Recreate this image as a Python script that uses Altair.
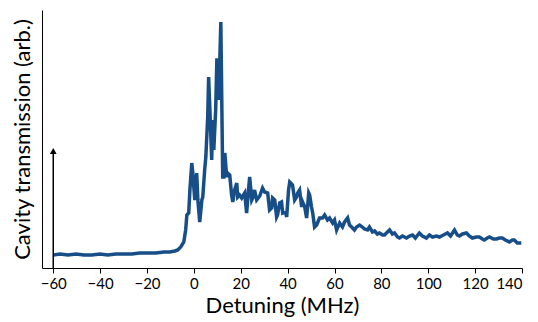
import altair as alt
import pandas as pd

# Detuning (MHz)
detuning = [
    -60.0, -57.1, -53.7, -50.3, -46.9, -43.5, -40.1, -36.7, -33.3, -29.9,
    -26.5, -23.1, -19.7, -16.2, -12.8, -10.3, -8.1, -6.9, -5.6, -4.3,
    -3.5, -3.0, -2.2, -1.7, -0.9, -0.5, 0.4, 1.2, 1.7, 2.5,
    3.4, 3.8, 4.6, 5.1, 5.5, 5.9, 6.3, 7.2, 7.6, 8.0,
    8.5, 9.3, 9.8, 10.2, 10.6, 11.5, 11.9, 12.3, 12.8, 13.2,
    14.0, 14.4, 15.3, 16.1, 16.6, 17.4, 18.3, 18.7, 19.5, 20.4,
    21.7, 22.5, 23.8, 24.7, 25.1, 25.9, 26.8, 28.1, 29.3, 30.2,
    31.5, 32.3, 33.2, 33.6, 34.5, 35.3, 35.7, 36.6, 37.4, 37.9,
    39.1, 39.6, 40.4, 40.9, 42.1, 43.0, 43.8, 44.3, 45.1, 46.0,
    46.4, 47.3, 48.1, 49.0, 49.4, 50.2, 50.7, 51.5, 52.4, 53.6,
    54.9, 55.8, 57.0, 57.9, 59.2, 60.0, 60.9, 62.2, 63.4, 64.3,
    65.6, 66.4, 67.3, 68.5, 69.4, 70.7, 71.9, 72.8, 74.1, 74.9,
    76.2, 77.1, 78.3, 79.2, 80.5, 81.3, 82.6, 83.5, 84.7, 85.6,
    86.9, 87.7, 89.0, 90.7, 92.0, 93.3, 94.5, 96.2, 97.5, 99.2,
    100.5, 101.8, 103.5, 104.8, 106.5, 108.2, 109.5, 111.2, 112.4, 113.3,
    114.6, 116.3, 117.5, 118.8, 120.5, 121.8, 123.1, 123.9, 125.2, 126.1,
    127.8, 129.1, 130.3, 131.6, 132.9, 134.6, 135.9, 136.7, 138.0, 138.9,
    139.7,
]

# Cavity transmission (arb.)
transmission = [
    13, 14, 13, 14, 13, 13, 14, 13, 14, 14,
    14, 15, 15, 15, 16, 16, 17, 18, 21, 26,
    38, 53, 55, 78, 105, 96, 68, 95, 68, 46,
    68, 71, 98, 111, 131, 151, 191, 135, 108, 148,
    118, 158, 208, 208, 168, 246, 168, 91, 91, 115,
    91, 95, 93, 73, 66, 78, 85, 71, 73, 70,
    75, 55, 91, 68, 70, 78, 68, 72, 80, 76,
    75, 58, 60, 70, 68, 51, 53, 65, 66, 55,
    56, 51, 78, 86, 83, 68, 71, 75, 78, 61,
    66, 61, 50, 75, 73, 61, 55, 41, 43, 50,
    50, 53, 48, 50, 45, 48, 38, 45, 41, 46,
    50, 43, 41, 38, 41, 43, 41, 39, 38, 41,
    36, 37, 34, 35, 33, 33, 36, 38, 34, 35,
    31, 30, 32, 30, 32, 33, 30, 35, 32, 30,
    33, 31, 32, 31, 33, 35, 32, 38, 33, 32,
    34, 35, 32, 30, 31, 31, 29, 28, 30, 31,
    29, 29, 30, 30, 28, 26, 28, 28, 25, 25,
    25,
]

# Arrow marking the transmission axis
arrow_x = [-60]
arrow_top = [121]

x_ticks = [-60, -40, -20, 0, 20, 40, 60, 80, 100, 120, 140]

df = pd.DataFrame({"x": detuning, "y": transmission})
arrow_df = pd.DataFrame({"x": arrow_x, "top": arrow_top})
arrow_df["shaft"] = arrow_df["top"] - 7
arrow_df["head"] = arrow_df["top"] - 4
arrow_df["base"] = 0

FONT = "Lato"

x_scale = alt.Scale(domain=[-64.8, 140], nice=False, zero=False)
y_scale = alt.Scale(domain=[0, 258], nice=False, zero=False)

x_axis = alt.Axis(
    title="Detuning (MHz)", values=x_ticks, grid=False,
    domainColor="#000000", tickColor="#000000", tickSize=5,
    labelFont=FONT, labelFontSize=15, labelColor="#000000", labelPadding=3,
    titleFont=FONT, titleFontSize=22, titleFontWeight="normal",
    titleColor="#000000", titlePadding=4,
)
y_axis = alt.Axis(
    title="Cavity transmission (arb.)", ticks=False, labels=False, grid=False,
    domainColor="#000000",
    titleFont=FONT, titleFontSize=22, titleFontWeight="normal",
    titleColor="#000000", titlePadding=8,
)

line = alt.Chart(df).mark_line(color="#174e87", strokeWidth=3.5).encode(
    x=alt.X("x:Q", scale=x_scale, axis=x_axis),
    y=alt.Y("y:Q", scale=y_scale, axis=y_axis),
)

shaft = alt.Chart(arrow_df).mark_rule(color="#000000", strokeWidth=1.5).encode(
    x=alt.X("x:Q", scale=x_scale),
    y=alt.Y("base:Q", scale=y_scale),
    y2="shaft:Q",
)

head = alt.Chart(arrow_df).mark_point(
    shape="triangle-up", filled=True, color="#000000", opacity=1, size=45
).encode(
    x=alt.X("x:Q", scale=x_scale),
    y=alt.Y("head:Q", scale=y_scale),
)

chart = alt.layer(line, shaft, head).properties(
    width=480,
    height=258,
    autosize=alt.AutoSizeParams(type="none"),
    padding={"left": 34, "top": 2, "right": 8, "bottom": 54},
).configure_view(stroke=None)

chart.save("out.html", embed_options={"renderer": "svg", "actions": False})
